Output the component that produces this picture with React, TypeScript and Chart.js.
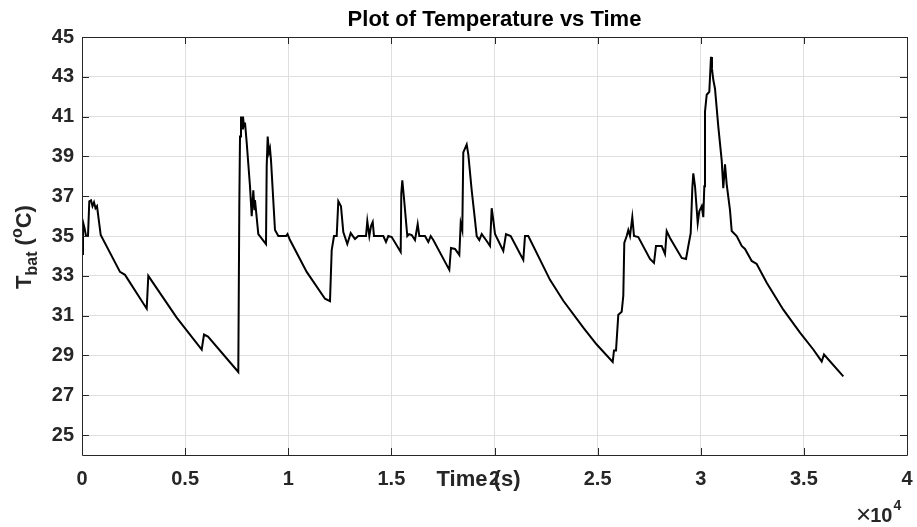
import React, { useEffect, useRef } from "react";
import { Chart, registerables } from "chart.js";

Chart.register(...registerables);

const timeSeconds = [
  0, 48, 121, 194, 291, 354, 436, 509, 582, 655, 727, 907, 1842, 2085, 3137, 3215, 4591, 5804, 5915, 6109,
  7578, 7627, 7661, 7709, 7758, 7806, 7855, 7903, 7985, 8145, 8228, 8306, 8364, 8388, 8548, 8921, 8955, 9003,
  9066, 9115, 9164, 9357, 9518, 9891, 9964, 10085, 10894, 11782, 12024, 12107, 12218, 12349, 12427, 12557,
  12669, 12863, 13028, 13236, 13396, 13770, 13833, 13930, 14012, 14095, 14158, 14609, 14739, 14851, 15016,
  15452, 15481, 15530, 15612, 15772, 15855, 15985, 16145, 16276, 16354, 16630, 16790, 16907, 17033, 17809,
  17891, 18085, 18294, 18361, 18439, 18487, 18652, 18730, 18894, 19054, 19137, 19263, 19380, 19588, 19782,
  19864, 19942, 20024, 20427, 20557, 20785, 21396, 21479, 21639, 22691, 23336, 24306, 24955, 25731, 25794,
  25891, 26003, 26167, 26245, 26293, 26410, 26487, 26570, 26681, 26764, 26972, 27539, 27733, 27830, 28107,
  28267, 28349, 28509, 29077, 29285, 29397, 29513, 29591, 29639, 29722, 29853, 29930, 30047, 30124, 30173,
  30206, 30289, 30415, 30497, 30545, 30608, 30691, 30851, 31016, 31093, 31176, 31258, 31418, 31501, 31743,
  31986, 32146, 32470, 32713, 33198, 34002, 34812, 35457, 35864, 35976, 36912,
];

const tempC = [
  34.1, 35.7, 35.4, 35.0, 35.0, 36.75, 36.8, 36.5, 36.7, 36.4, 36.5, 35.05, 33.2, 33.05, 31.35, 33.0, 30.9, 29.3,
  30.05, 29.95, 28.17, 36.5, 40.0, 41.0, 40.4, 41.0, 40.5, 40.7, 39.7, 37.5, 36.0, 37.3, 36.3, 36.8, 35.1, 34.6,
  38.5, 40.0, 39.2, 39.4, 38.8, 35.3, 35.0, 35.0, 35.1, 34.8, 33.2, 31.85, 31.73, 34.3, 35.0, 35.0, 36.75, 36.5,
  35.2, 34.6, 35.15, 34.85, 35.0, 35.0, 35.75, 35.0, 35.5, 35.7, 35.0, 35.0, 34.7, 35.0, 34.95, 34.2, 37.15,
  37.8, 36.9, 35.0, 35.1, 35.05, 34.8, 35.6, 35.0, 35.0, 34.7, 35.0, 34.8, 33.3, 34.4, 34.35, 34.05, 35.65,
  35.3, 39.2, 39.6, 39.1, 37.3, 35.8, 35.0, 34.8, 35.1, 34.8, 34.5, 36.4, 35.8, 35.1, 34.25, 35.1, 35.0, 33.8,
  35.0, 35.0, 32.8, 31.75, 30.4, 29.55, 28.67, 29.25, 29.25, 31.05, 31.2, 32.0, 34.65, 35.0, 35.3, 35.0, 35.95,
  35.0, 34.95, 33.85, 33.65, 34.5, 34.5, 34.1, 35.25, 34.9, 33.9, 33.85, 34.5, 35.15, 37.4, 38.15, 37.5, 35.65,
  36.25, 36.5, 35.95, 37.5, 41.25, 42.1, 42.25, 44.0, 43.4, 42.85, 42.4, 40.5, 38.8, 37.4, 38.6, 37.6, 36.3,
  35.25, 35.0, 34.5, 34.35, 33.75, 33.6, 32.65, 31.3, 30.15, 29.3, 28.7, 29.05, 27.95,
];

const xTickValues = [0, 5000, 10000, 15000, 20000, 25000, 30000, 35000, 40000];
const yTickValues = [25, 27, 29, 31, 33, 35, 37, 39, 41, 43, 45];
const xMin = 0;
const xMax = 40000;
const yMin = 24;
const yMax = 45;

const titleText = "Plot of Temperature vs Time";
const xLabelText = "Time (s)";

const FONT = "'Liberation Sans', Arial, Helvetica, sans-serif";
const DARK = "#262626";

export default function App() {
  const canvasRef = useRef<HTMLCanvasElement | null>(null);

  useEffect(() => {
    const canvas = canvasRef.current;
    if (!canvas) return;

    const decor = {
      id: "matlabDecor",
      afterDatasetsDraw(chart: any) {
        const ctx = chart.ctx;
        const { left, right, top, bottom } = chart.chartArea;
        const xs = chart.scales.x;
        const ys = chart.scales.y;
        ctx.save();
        // box
        ctx.strokeStyle = DARK;
        ctx.lineWidth = 1;
        ctx.beginPath();
        ctx.rect(Math.round(left) + 0.5, Math.round(top) + 0.5, Math.round(right - left), Math.round(bottom - top));
        ctx.stroke();
        // inward ticks
        const tl = 7;
        ctx.beginPath();
        xTickValues.forEach((v) => {
          const px = Math.round(xs.getPixelForValue(v)) + 0.5;
          ctx.moveTo(px, bottom);
          ctx.lineTo(px, bottom - tl);
          ctx.moveTo(px, top);
          ctx.lineTo(px, top + tl);
        });
        yTickValues.forEach((v) => {
          const py = Math.round(ys.getPixelForValue(v)) + 0.5;
          ctx.moveTo(left, py);
          ctx.lineTo(left + tl, py);
          ctx.moveTo(right, py);
          ctx.lineTo(right - tl, py);
        });
        ctx.stroke();

        // title
        ctx.fillStyle = "#000000";
        ctx.textAlign = "center";
        ctx.textBaseline = "alphabetic";
        ctx.font = `bold 22px ${FONT}`;
        ctx.fillText(titleText, (left + right) / 2, 26);

        // x label
        ctx.fillStyle = DARK;
        ctx.font = `bold 22px ${FONT}`;
        ctx.fillText(xLabelText, 478.5, 486);

        // x10^4
        ctx.textAlign = "left";
        ctx.font = `26px ${FONT}`;
        ctx.fillText("\u00d7", 856, 523);
        const wx = ctx.measureText("\u00d7").width;
        ctx.font = `bold 20px ${FONT}`;
        ctx.fillText("10", 856 + wx - 1, 522);
        const w10 = ctx.measureText("10").width;
        ctx.font = `bold 14px ${FONT}`;
        ctx.fillText("4", 856 + wx + w10, 510);

        // y label: T_bat (^oC)
        const parts = [
          { t: "T", size: 22, dy: 0 },
          { t: "bat", size: 16, dy: 6 },
          { t: " (", size: 22, dy: 0 },
          { t: "o", size: 16, dy: -9 },
          { t: "C)", size: 22, dy: 0 },
        ];
        let total = 0;
        parts.forEach((p) => {
          ctx.font = `bold ${p.size}px ${FONT}`;
          total += ctx.measureText(p.t).width;
        });
        ctx.translate(31, 247);
        ctx.rotate(-Math.PI / 2);
        let cx = -total / 2;
        parts.forEach((p) => {
          ctx.font = `bold ${p.size}px ${FONT}`;
          ctx.fillText(p.t, cx, p.dy);
          cx += ctx.measureText(p.t).width;
        });
        ctx.restore();
      },
    };

    const chart = new Chart(canvas, {
      type: "line",
      data: {
        datasets: [
          {
            data: timeSeconds.map((t, i) => ({ x: t, y: tempC[i] })),
            borderColor: "#000000",
            borderWidth: 2,
            pointRadius: 0,
            tension: 0,
            fill: false,
          },
        ],
      },
      options: {
        animation: false,
        responsive: false,
        maintainAspectRatio: false,
        layout: { padding: { left: 0, top: 37, right: 10, bottom: 0 } },
        plugins: {
          legend: { display: false },
          title: { display: false },
          tooltip: { enabled: false },
        },
        scales: {
          x: {
            type: "linear",
            min: xMin,
            max: xMax,
            afterBuildTicks: (s: any) => {
              s.ticks = xTickValues.map((v) => ({ value: v }));
            },
            afterFit: (s: any) => {
              s.height = 72;
              s.paddingLeft = 0;
              s.paddingRight = 0;
            },
            ticks: {
              autoSkip: false,
              maxRotation: 0,
              padding: 12,
              color: DARK,
              font: { size: 20, weight: "bold", family: FONT },
              callback: (v: any) => String(Number(v) / 10000),
            },
            grid: { color: "#dfdfdf", lineWidth: 1, drawTicks: false },
            border: { display: false },
          },
          y: {
            type: "linear",
            min: yMin,
            max: yMax,
            afterBuildTicks: (s: any) => {
              s.ticks = yTickValues.map((v) => ({ value: v }));
            },
            afterFit: (s: any) => {
              s.width = 82;
              s.paddingTop = 0;
              s.paddingBottom = 0;
            },
            ticks: {
              autoSkip: false,
              padding: 8,
              color: DARK,
              font: { size: 20, weight: "bold", family: FONT },
              callback: (v: any) => String(v),
            },
            grid: { color: "#dfdfdf", lineWidth: 1, drawTicks: false },
            border: { display: false },
          },
        },
      },
      plugins: [decor],
    } as any);

    return () => {
      chart.destroy();
    };
  }, []);

  return (
    <div style={{ position: "fixed", left: 0, top: 0, width: 917, height: 527, background: "#ffffff" }}>
      <canvas ref={canvasRef} width={917} height={527} style={{ width: 917, height: 527, display: "block" }} />
    </div>
  );
}
